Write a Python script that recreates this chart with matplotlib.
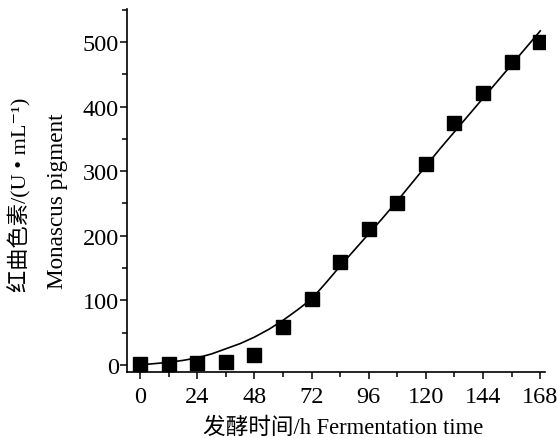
import numpy as np
import matplotlib
matplotlib.use('Agg')
import matplotlib.pyplot as plt
from matplotlib.ticker import MultipleLocator

fam = ['Liberation Serif', 'DejaVu Serif', 'Noto Sans CJK SC']
plt.rcParams['font.family'] = fam

# measured pigment values
time_h = [0, 12, 24, 36, 48, 60, 72, 84, 96, 108, 120, 132, 144, 156, 168]
pigment = [2, 2, 3, 4, 15, 59, 102, 159, 210, 251, 311, 374, 421, 469, 500]

# fitted curve
fit_t = [0, 6, 12, 18, 24, 30, 36, 42, 48, 54, 60, 66, 72, 78, 84, 90, 96,
         102, 108, 114, 120, 126, 132, 138, 144, 150, 156, 162, 168]
fit_v = [0, 2, 4, 7, 11, 17, 25, 33, 43, 55, 69, 85, 102, 127, 153, 178, 203,
         228, 254, 281, 308, 335, 361, 387, 413, 439, 465, 491, 517]

fig = plt.figure(figsize=(5.58, 4.39), dpi=100)
ax = fig.add_axes([0.2276, 0.1503, 0.9767 - 0.2276, 0.9772 - 0.1503])

ax.plot(fit_t, fit_v, color='black', lw=1.2)
ax.plot(time_h, pigment, 's', color='black', ms=9.5)

ax.set_xlim(-5.5, 170)
ax.set_ylim(-11, 551)
ax.spines['top'].set_visible(False)
ax.spines['right'].set_visible(False)
ax.spines['left'].set_linewidth(1.2)
ax.spines['bottom'].set_linewidth(1.2)

ax.set_xticks([0, 24, 48, 72, 96, 120, 144, 168])
ax.xaxis.set_minor_locator(MultipleLocator(12))
ax.set_yticks([0, 100, 200, 300, 400, 500])
ax.yaxis.set_minor_locator(MultipleLocator(50))
ax.tick_params(which='major', direction='out', length=5, width=1.1, labelsize=17.5)
ax.tick_params(axis='y', which='major', pad=1)
ax.tick_params(axis='x', which='major', pad=5)
ax.tick_params(which='minor', direction='out', length=3.5, width=1.1)

fig.text(343 / 558, 1 - 428 / 439, '发酵时间/h Fermentation time', fontsize=16.3,
         ha='center', va='center')
fig.text(20 / 558, 1 - 195 / 439, '红曲色素/(U • mL⁻¹)', fontsize=16,
         rotation=90, ha='center', va='center')
fig.text(57 / 558, 1 - 201 / 439, 'Monascus pigment', fontsize=16.7,
         rotation=90, ha='center', va='center')

fig.savefig('out.png', dpi=100)
